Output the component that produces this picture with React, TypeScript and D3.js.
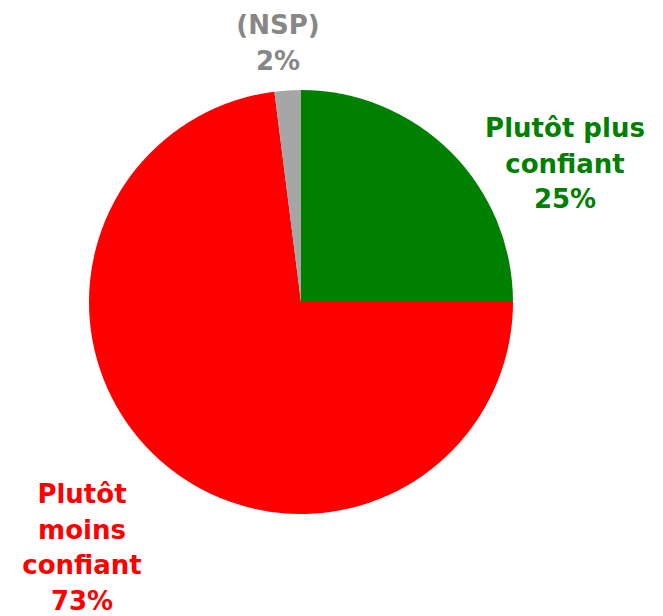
import React from "react";
import * as d3 from "d3";

const categories = ["Plutôt plus confiant", "Plutôt moins confiant", "(NSP)"];
const values = [25, 73, 2];
const colors = ["#008000", "#FF0000", "#A6A6A6"];
const labelColors = ["#008000", "#FF0000", "#878787"];
const labelLines = [["Plutôt plus", "confiant", "25%"], ["Plutôt", "moins", "confiant", "73%"], ["(NSP)", "2%"]];

export default function App() {
  const W = 663, H = 616;
  const cx = 301, cy = 302, r = 212;
  const pie = d3.pie<number>().sort(null).value((d) => d)(values);
  const arc = d3.arc<d3.PieArcDatum<number>>().innerRadius(0).outerRadius(r);
  const labelPos: [number, number][] = [[565, 137], [82, 503], [278, 34]];
  return (
    <svg width={W} height={H} style={{ position: "absolute", left: 0, top: 0 }}>
      <g transform={`translate(${cx},${cy})`}>
        {pie.map((p, i) => (
          <path key={i} d={arc(p) || ""} fill={colors[i]} />
        ))}
      </g>
      {labelLines.map((lines, i) => (
        <text key={i} x={labelPos[i][0]} y={labelPos[i][1]} textAnchor="middle"
          fill={labelColors[i]} fontFamily="DejaVu Sans" fontWeight="bold" fontSize={26}>
          {lines.map((l, j) => (
            <tspan key={j} x={labelPos[i][0]} dy={j === 0 ? 0 : 35.5}>{l}</tspan>
          ))}
        </text>
      ))}
    </svg>
  );
}
